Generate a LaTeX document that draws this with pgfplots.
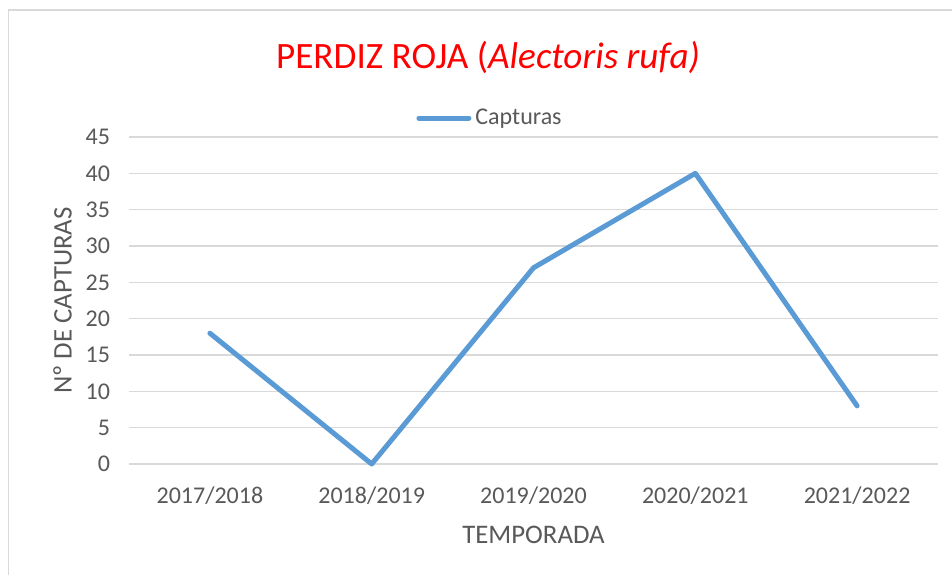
\documentclass[border=0pt]{standalone}
\usepackage{pgfplots}
\pgfplotsset{compat=1.18}
\usepackage{fontspec}
\setmainfont{Carlito}
\definecolor{lineblue}{HTML}{5B9BD5}
\definecolor{gridgray}{HTML}{D9D9D9}
\definecolor{txtgray}{HTML}{595959}
\begin{document}
\begin{tikzpicture}
\useasboundingbox[fill=white] (0,0) rectangle (476pt,287.5pt);
\draw[gridgray, line width=0.75pt] (4.3pt,0) -- (4.3pt,282.5pt) -- (476pt,282.5pt);
\begin{axis}[
  at={(64.5pt,55.5pt)}, anchor=south west,
  scale only axis, width=404.5pt, height=163.5pt,
  xmin=-0.5, xmax=4.5, ymin=0, ymax=45,
  xtick={0,1,2,3,4},
  xticklabels={2017/2018,2018/2019,2019/2020,2020/2021,2021/2022},
  ytick={0,5,...,45},
  axis line style={draw=none},
  major tick length=0pt,
  ymajorgrids, grid style={gridgray, line width=0.75pt},
  tick label style={font=\fontsize{12}{14}\selectfont, text=txtgray},
  /pgf/number format/assume math mode=true,
  xticklabel style={yshift=-8pt},
  yticklabel style={xshift=-6pt},
  xlabel={TEMPORADA}, ylabel={Nº DE CAPTURAS},
  label style={font=\fontsize{13.4}{15}\selectfont, text=txtgray},
  xlabel style={yshift=-4pt},
  ylabel style={yshift=0pt},
  legend style={at={(0.4475,1.058)}, anchor=center, draw=none, fill=none,
    font=\fontsize{12}{14}\selectfont, text=txtgray, inner sep=0pt},
  legend image code/.code={\draw[lineblue, line width=2.5pt, line cap=round] (0pt,0pt) -- (25pt,0pt);},
  legend cell align=left,
  clip=false,
]
\addplot[lineblue, line width=2.5pt, line join=round, line cap=round] coordinates {(0,18) (1,0) (2,27) (3,40) (4,8)};
\addlegendentry{Capturas}
\end{axis}
\node[text=red, font=\fontsize{18.6}{22}\selectfont] at (244pt,259pt) {PERDIZ ROJA (\textit{Alectoris rufa)}};
\end{tikzpicture}
\end{document}
